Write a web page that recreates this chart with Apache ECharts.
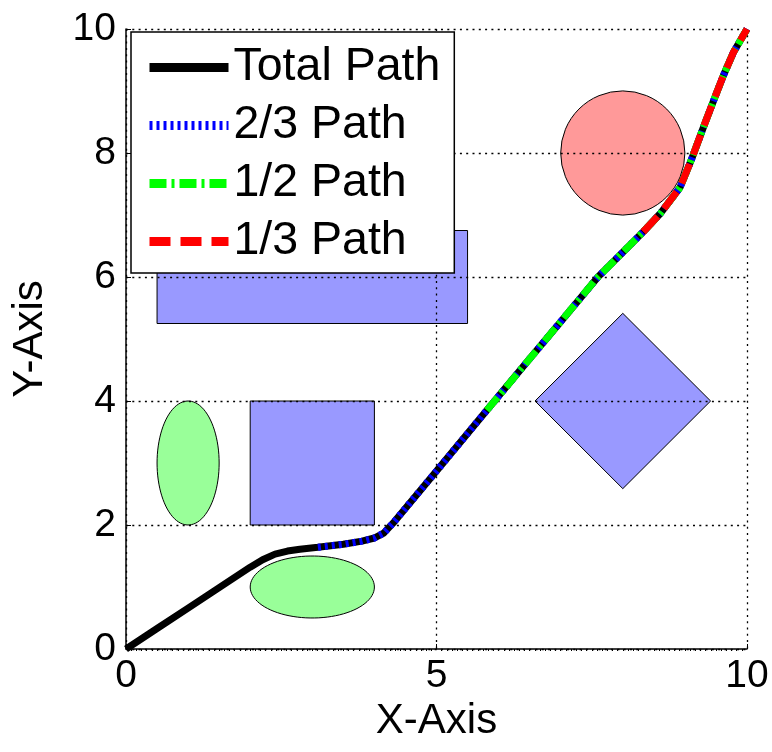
<!DOCTYPE html>
<html><head><meta charset="utf-8">
<script src="https://cdn.jsdelivr.net/npm/echarts@6/dist/echarts.min.js"></script>
<style>html,body{margin:0;padding:0;background:#fff}#c{width:772px;height:752px}</style>
</head><body><div id="c"></div>
<script>
const seriesNames = ['Total Path', '2/3 Path', '1/2 Path', '1/3 Path'];
const xTickValues = [0, 5, 10];
const yTickValues = [0, 2, 4, 6, 8, 10];

const totalPath = [[0,0],[0.5,0.33],[1,0.66],[1.5,0.99],[2.0,1.32],[2.2,1.44],[2.4,1.53],[2.6,1.58],[2.8,1.61],
  [3.09,1.64],[3.5,1.69],[3.8,1.74],[4.0,1.79],[4.15,1.87],[4.3,2.03],[5.0,2.87],
  [5.81,3.85],[6.5,4.68],[7.0,5.28],[7.6,6.0],[8.0,6.4],
  [8.33,6.73],[8.6,7.02],[8.92,7.44],[9.1,7.88],[9.3,8.42],[9.46,8.84],[9.62,9.25],[9.78,9.62],[10,10]];
const twoThirdsPath = [[3.09,1.64],[3.5,1.69],[3.8,1.74],[4.0,1.79],[4.15,1.87],[4.3,2.03],[5.0,2.87],
  [5.81,3.85],[6.5,4.68],[7.0,5.28],[7.6,6.0],[8.0,6.4],
  [8.33,6.73],[8.6,7.02],[8.92,7.44],[9.1,7.88],[9.3,8.42],[9.46,8.84],[9.62,9.25],[9.78,9.62],[10,10]];
const halfPath = [[5.81,3.85],[6.5,4.68],[7.0,5.28],[7.6,6.0],[8.0,6.4],
  [8.33,6.73],[8.6,7.02],[8.92,7.44],[9.1,7.88],[9.3,8.42],[9.46,8.84],[9.62,9.25],[9.78,9.62],[10,10]];
const thirdPath = [[8.33,6.73],[8.6,7.02],[8.92,7.44],[9.1,7.88],[9.3,8.42],[9.46,8.84],[9.62,9.25],[9.78,9.62],[10,10]];

// obstacles: rectangles [x0, y0, x1, y1]
const rectangles = [[0.5,5.25,5.5,6.75],[2,2,4,4]];
// ellipses [cx, cy, rx, ry]
const ellipses = [[1,3,0.5,1],[3,1,1,0.5]];
// circles [cx, cy, r]
const circles = [[8,8,1]];
// diamonds [cx, cy, halfDiagonal]
const diamonds = [[8,4,1.414]];

const FONT = 'Liberation Sans, Arial, sans-serif';
const BLUE_FILL = '#9999ff', GREEN_FILL = '#99ff99', RED_FILL = '#ff9999';

const chart = echarts.init(document.getElementById('c'), null, {renderer: 'canvas'});

function shapeStyle(fill) { return {fill: fill, stroke: '#000', lineWidth: 1}; }

const gridLine = {show: true, lineStyle: {color: '#000', width: 1.3, type: [2, 4.3]}};

const option = {
  backgroundColor: '#fff',
  animation: false,
  grid: {left: 126, top: 29, right: 25, bottom: 103, outerBoundsMode: 'none', containLabel: false},
  legend: {
    orient: 'vertical', left: 131, top: 32, z: 10,
    backgroundColor: '#fff', borderColor: '#000', borderWidth: 1.5, borderRadius: 0,
    padding: [12, 14, 8, 14],
    itemWidth: 79, itemHeight: 10, itemGap: 11,
    itemStyle: {opacity: 0},
    textStyle: {fontSize: 46.5, fontFamily: FONT, color: '#000', lineHeight: 46},
    data: seriesNames.map(n => ({name: n, lineStyle: {width: 9}}))
  },
  xAxis: [{
    type: 'value', min: 0, max: 10, interval: 5, z: 2,
    axisLine: {show: true, onZero: false, lineStyle: {color: '#000', width: 1.5}},
    axisTick: {show: true, inside: true, length: 5, lineStyle: {color: '#000', width: 1}},
    axisLabel: {fontSize: 39, fontFamily: FONT, color: '#000', margin: 8,
      formatter: v => xTickValues.includes(v) ? String(v) : ''},
    splitLine: gridLine,
    name: 'X-Axis', nameLocation: 'middle', nameGap: 51,
    nameTextStyle: {fontSize: 42, fontFamily: FONT, color: '#000'}
  }, {
    type: 'value', min: 0, max: 10, interval: 5, position: 'bottom', z: 2,
    axisLine: {show: false}, axisTick: {show: false, inside: false}, axisLabel: {show: false},
    splitLine: {show: false},
    minorTick: {show: true, splitNumber: 60, length: 2, lineStyle: {color: '#000', width: 1}}
  }],
  yAxis: {
    type: 'value', min: 0, max: 10, interval: 2, z: 2,
    axisLine: {show: true, onZero: false, lineStyle: {color: '#000', width: 1.5}},
    axisTick: {show: true, inside: true, length: 5, lineStyle: {color: '#000', width: 1}},
    axisLabel: {fontSize: 39, fontFamily: FONT, color: '#000', margin: 10,
      formatter: v => yTickValues.includes(v) ? String(v) : ''},
    splitLine: gridLine,
    name: 'Y-Axis', nameLocation: 'middle', nameGap: 75, nameRotate: 90,
    nameTextStyle: {fontSize: 42, fontFamily: FONT, color: '#000'}
  },
  series: [
    {
      type: 'custom', name: 'rects', z: 1, silent: true, data: rectangles,
      renderItem: (params, api) => {
        const p = api.coord([api.value(0), api.value(3)]);
        const s = api.size([api.value(2) - api.value(0), api.value(3) - api.value(1)]);
        return {type: 'rect', shape: {x: p[0], y: p[1], width: s[0], height: s[1]}, style: shapeStyle(BLUE_FILL)};
      }
    },
    {
      type: 'custom', name: 'ellipses', z: 1, silent: true, data: ellipses,
      renderItem: (params, api) => {
        const cx = api.value(0), cy = api.value(1), rx = api.value(2), ry = api.value(3);
        const pts = [];
        for (let i = 0; i < 90; i++) {
          const t = i / 90 * Math.PI * 2;
          pts.push(api.coord([cx + rx * Math.cos(t), cy + ry * Math.sin(t)]));
        }
        return {type: 'polygon', shape: {points: pts}, style: shapeStyle(GREEN_FILL)};
      }
    },
    {
      type: 'custom', name: 'circles', z: 1, silent: true, data: circles,
      renderItem: (params, api) => {
        const c = api.coord([api.value(0), api.value(1)]);
        const r = api.size([api.value(2), 0])[0];
        return {type: 'circle', shape: {cx: c[0], cy: c[1], r: r}, style: shapeStyle(RED_FILL)};
      }
    },
    {
      type: 'custom', name: 'diamonds', z: 1, silent: true, data: diamonds,
      renderItem: (params, api) => {
        const cx = api.value(0), cy = api.value(1), h = api.value(2);
        const pts = [[cx, cy + h], [cx + h, cy], [cx, cy - h], [cx - h, cy]].map(q => api.coord(q));
        return {type: 'polygon', shape: {points: pts}, style: shapeStyle(BLUE_FILL)};
      }
    },
    {name: seriesNames[0], type: 'line', data: totalPath, z: 3, symbol: 'none', showSymbol: false,
      color: '#000', lineStyle: {color: '#000', width: 7, type: 'solid'}},
    {name: seriesNames[1], type: 'line', data: twoThirdsPath, z: 4, symbol: 'none', showSymbol: false,
      color: '#0000ff', lineStyle: {color: '#0000ff', width: 7, type: [3, 4]}},
    {name: seriesNames[2], type: 'line', data: halfPath, z: 5, symbol: 'none', showSymbol: false,
      color: '#00ff00', lineStyle: {color: '#00ff00', width: 7, type: [17, 5, 3, 5]}},
    {name: seriesNames[3], type: 'line', data: thirdPath, z: 6, symbol: 'none', showSymbol: false,
      color: '#ff0000', lineStyle: {color: '#ff0000', width: 7, type: [21, 10]}}
  ]
};
chart.setOption(option);
</script>
</body></html>
